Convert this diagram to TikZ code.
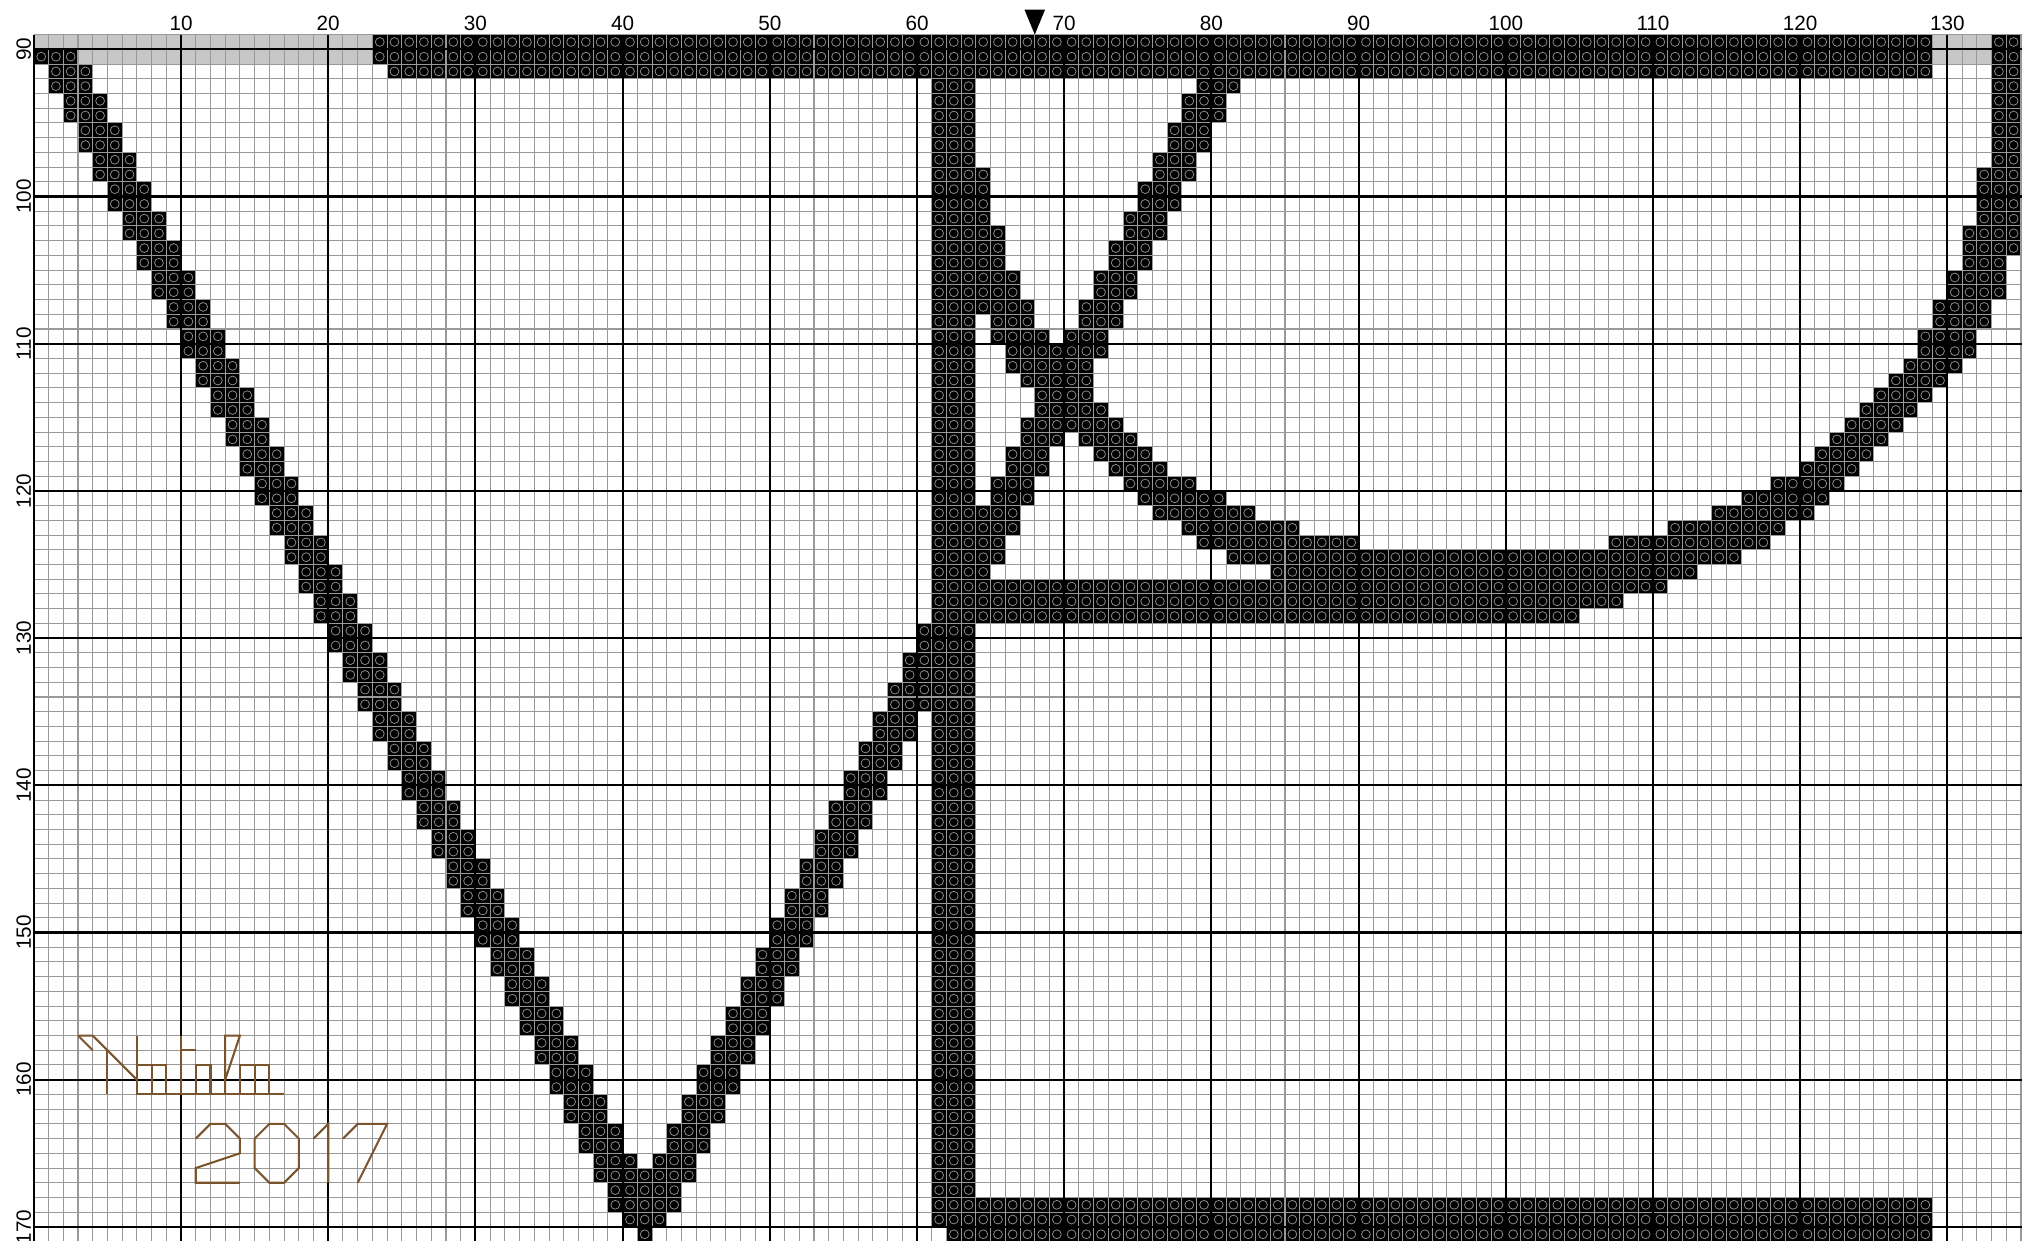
\documentclass[tikz,border=0pt]{standalone}
\usepackage{fontspec}
\setmainfont{Liberation Sans}
\definecolor{signbrown}{RGB}{122,84,44}

% one row of stitches: row, first column, last column
\newcommand{\stitchrow}[3]{%
  \fill[stitch] (#2,#1) rectangle (#3+1,#1+1);
  \foreach \c in {#2,...,#3} {\draw[symb] (\c+.5,#1+.5) circle[radius=.6mm];}}

\begin{document}
\begin{tikzpicture}[x=2mm, y=-2mm,
    stitch/.style={fill=black},
    symb/.style={draw=black!45, line width=0.3pt},
    stipple/.style={fill=black!22},
    minorline/.style={draw=black!40, line width=0.4pt},
    majorline/.style={draw=black, line width=0.8pt},
    collabel/.style={font=\fontsize{8}{9}\selectfont, anchor=base, inner sep=0pt},
    rowlabel/.style={font=\fontsize{8}{9}\selectfont, anchor=base, rotate=90, inner sep=0pt},
    signature/.style={draw=signbrown, line width=0.8pt}
  ]
  \useasboundingbox (-2.30,86.65) rectangle (135.07,170.96);
  \clip (-2.30,86.65) rectangle (135.07,170.96);

  % shaded cells of the previous sheet
  \fill[stipple] (0,89) rectangle (23,90);
  \fill[stipple] (3,90) rectangle (23,91);
  \fill[stipple] (129,89) rectangle (133,91);

  % top bar
  \foreach \r/\a/\b in {89/23/128, 89/133/134, 90/0/2, 90/23/128, 90/133/134,
      91/24/128, 91/133/134}
    {\stitchrow{\r}{\a}{\b}}

  % left stroke of the V
  \foreach \k in {0,...,38} {
    \pgfmathtruncatemacro\ra{91+2*\k}
    \pgfmathtruncatemacro\rb{92+2*\k}
    \pgfmathtruncatemacro\ca{1+\k}
    \pgfmathtruncatemacro\cb{3+\k}
    \stitchrow{\ra}{\ca}{\cb}
    \stitchrow{\rb}{\ca}{\cb}
  }
  \stitchrow{169}{40}{42}
  \stitchrow{170}{41}{41}
  \stitchrow{166}{41}{41}

  % right stroke of the V
  \foreach \j in {-14,...,5} {
    \pgfmathtruncatemacro\ra{157+2*\j}
    \pgfmathtruncatemacro\rb{158+2*\j}
    \pgfmathtruncatemacro\ca{46-\j}
    \pgfmathtruncatemacro\cb{48-\j}
    \stitchrow{\ra}{\ca}{\cb}
    \stitchrow{\rb}{\ca}{\cb}
  }

  % stem of the K and bottom bar
  \foreach \r in {92,...,167} {\stitchrow{\r}{61}{63}}
  \foreach \r/\a/\b in {168/61/128, 169/61/128, 170/62/128}
    {\stitchrow{\r}{\a}{\b}}

  % arms of the K and the right curve
  \foreach \r/\a/\b in {
      92/79/81, 92/133/134, 93/78/80, 93/133/134, 94/78/80, 94/133/134,
      95/77/79, 95/133/134, 96/77/79, 96/133/134, 97/76/78, 97/133/134,
      98/64/64, 98/76/78, 98/132/134, 99/64/64, 99/75/77, 99/132/134,
      100/64/64, 100/75/77, 100/132/134, 101/64/64, 101/74/76, 101/132/134,
      102/64/65, 102/74/76, 102/131/134, 103/64/65, 103/73/75, 103/131/134,
      104/64/65, 104/73/75, 104/131/133, 105/64/66, 105/72/74, 105/130/133,
      106/64/66, 106/72/74, 106/130/133, 107/64/67, 107/71/73, 107/129/132,
      108/65/67, 108/71/73, 108/129/132, 109/65/68, 109/70/72, 109/128/131,
      110/66/72, 110/128/131, 111/66/71, 111/127/130, 112/67/71, 112/126/129,
      113/68/71, 113/125/128, 114/68/72, 114/124/127, 115/67/73, 115/123/126,
      116/67/69, 116/71/74, 116/122/125, 117/66/68, 117/72/75, 117/121/124,
      118/66/68, 118/73/76, 118/120/123, 119/65/67, 119/74/78, 119/118/122,
      120/65/67, 120/75/80, 120/116/121, 121/64/66, 121/76/82, 121/114/120,
      122/64/66, 122/78/85, 122/111/118, 123/64/65, 123/79/89, 123/107/117,
      124/64/65, 124/81/115, 125/64/64, 125/84/112,
      126/64/110, 127/64/107, 128/64/104}
    {\stitchrow{\r}{\a}{\b}}

  % grid
  \foreach \c in {1,...,135} {\draw[minorline] (\c,89) -- (\c,171);}
  \foreach \r in {89,...,171} {\draw[minorline] (0,\r) -- (135.2,\r);}
  \draw[draw=black, line width=0.5pt] (0,89) -- (0,171);
  \foreach \c in {10,20,...,130} {\draw[majorline] (\c,89) -- (\c,171);}
  \foreach \r in {90,100,...,170} {\draw[majorline] (0,\r) -- (135.2,\r);}

  % numbers
  \foreach \c in {10,20,...,130} {\node[collabel] (col\c) at (\c,88.7) {\c};}
  \foreach \r in {90,100,...,170} {\node[rowlabel] (row\r) at (-0.2,\r) {\r};}
  \fill (67.3,87.3) -- (68.7,87.3) -- (68,89) -- cycle;

  % signature
  \draw[signature] (3,157) -- (4,157) -- (7,160);
  \draw[signature] (3,157) -- (4,158);
  \draw[signature] (5,158) -- (5,161);
  \draw[signature] (7,157) -- (7,161) -- (17,161);
  \draw[signature] (7,159) -- (9,159) -- (9,161);
  \draw[signature] (8,159) -- (8,161);
  \draw[signature] (10,157) -- (10,161);
  \draw[signature] (10,158) -- (11,158);
  \draw[signature] (11,161) -- (11,159) -- (12,159) -- (12,161);
  \draw[signature] (13,161) -- (13,157) -- (14,157) -- (13,160);
  \draw[signature] (14,161) -- (14,159) -- (16,159) -- (16,161);
  \draw[signature] (15,159) -- (15,161);
  \draw[signature] (11,164) -- (12,163) -- (13,163) -- (14,164) -- (14,165)
    -- (11,166) -- (11,167) -- (14,167);
  \draw[signature] (15,164) -- (16,163) -- (17,163) -- (18,164) -- (18,166)
    -- (17,167) -- (16,167) -- (15,166) -- cycle;
  \draw[signature] (19,164) -- (20,163) -- (20,167);
  \draw[signature] (21,164) -- (22,163) -- (24,163) -- (22,167);
\end{tikzpicture}
\end{document}
